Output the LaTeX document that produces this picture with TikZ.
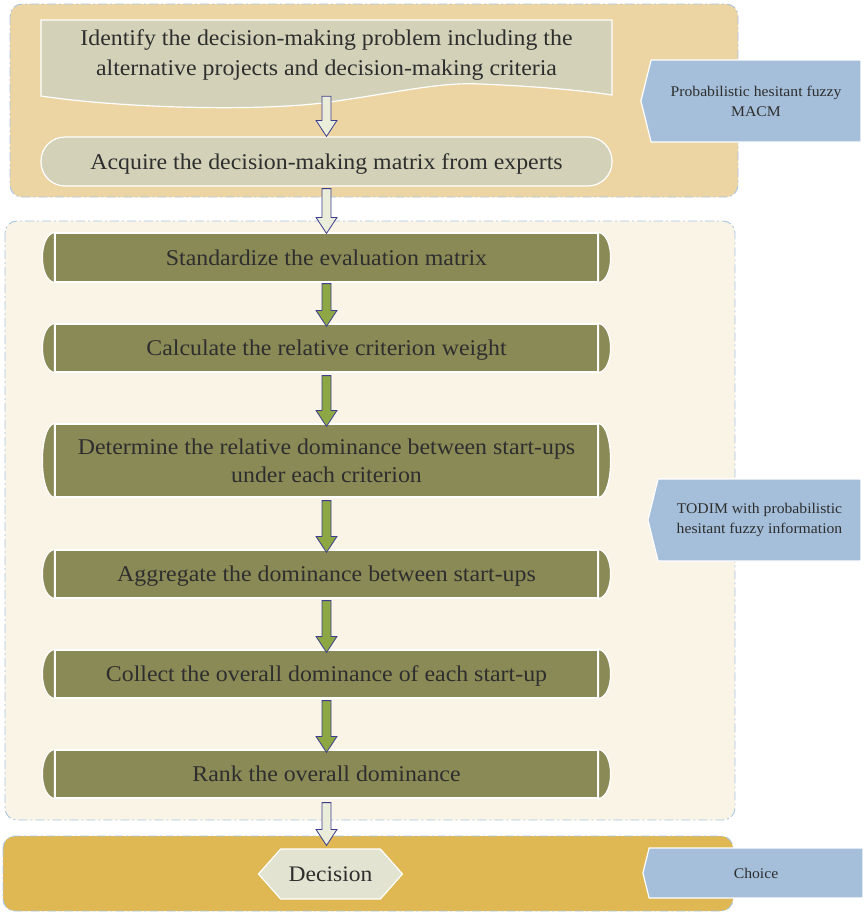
\documentclass[tikz,border=0pt]{standalone}
\usepackage{fontspec}
\setmainfont{Liberation Serif}[FakeStretch=1.06]
\usetikzlibrary{calc,shapes.symbols}
\definecolor{tanbg}{HTML}{EDD5A3}
\definecolor{docfill}{HTML}{D3D2B9}
\definecolor{midbg}{HTML}{FAF4E6}
\definecolor{olivebox}{HTML}{8A8A56}
\definecolor{arrgreen}{HTML}{8CA743}
\definecolor{arrline}{HTML}{3D3D8F}
\definecolor{arrlight}{HTML}{E9EDD9}
\definecolor{goldbg}{HTML}{DFB753}
\definecolor{hexfill}{HTML}{E3E3D1}
\definecolor{bluelab}{HTML}{A5BFDA}
\definecolor{panelline}{HTML}{A9C6E4}
\definecolor{txtc}{HTML}{2E2E2E}
\newcommand\gcaps[1]{%
 \path[gcap] (#1.north west) .. controls ($(#1.north west)+(-16,3)$) and ($(#1.south west)+(-16,-3)$) .. (#1.south west) -- cycle;
 \path[gcap] (#1.north east) .. controls ($(#1.north east)+(16,3)$) and ($(#1.south east)+(16,-3)$) .. (#1.south east) -- cycle;}
\newcommand\barrow[3]{%
 \path[#1] let \p1=(#2), \p2=(#3) in (\x1-4.5pt,\y1) -- (\x1+4.5pt,\y1) -- (\x1+4.5pt,\y2+16pt) -- (\x1+10.5pt,\y2+16pt) -- (\x1,\y2) -- (\x1-10.5pt,\y2+16pt) -- (\x1-4.5pt,\y2+16pt) -- cycle;}
\begin{document}
\begin{tikzpicture}[x=1pt,y=-1pt,
  panel/.style={draw=panelline, line width=0.9pt, rounded corners=12pt, dash pattern=on 9pt off 3pt on 2pt off 3pt},
  txt/.style={text=txtc, font=\fontsize{22.5}{30}\selectfont, align=center},
  oneline/.style={text height=19pt, text depth=4pt},
  docbox/.style={fill=docfill, draw=white, line width=1.2pt},
  acq/.style={txt, oneline, fill=docfill, draw=white, line width=1.2pt, rounded corners=24pt, minimum width=571pt, minimum height=49pt, inner sep=0pt},
  gbox/.style={txt, fill=olivebox, draw=white, line width=1.2pt, minimum width=543pt, inner sep=0pt},
  gcap/.style={fill=olivebox, draw=white, line width=1.2pt},
  garrow/.style={fill=arrgreen, draw=arrline, line width=0.8pt},
  larrow/.style={fill=arrlight, draw=arrline, line width=0.8pt},
  lab/.style={signal, signal to=west, signal pointer angle=152, fill=bluelab, draw=white, line width=1.2pt, text=txtc, font=\fontsize{14.8}{20}\selectfont, align=center, inner sep=0pt},
  hexa/.style={signal, signal to=west and east, signal pointer angle=97, fill=hexfill, draw=white, line width=1.2pt, text=txtc, font=\fontsize{22.2}{28}\selectfont, inner sep=0pt, minimum width=144pt, minimum height=50pt}
]
\useasboundingbox (0,0) rectangle (865,913);
% panels
\path[panel, fill=tanbg] (10,4) rectangle (738,197);
\path[panel, fill=midbg] (5,221) rectangle (735,820);
\path[panel, fill=goldbg] (3,836) rectangle (733,911);
% document shape
\path[docbox] (41,20) -- (612,20) -- (612,95) .. controls (580,90) and (530,86) .. (480,84) .. controls (440,82) and (400,92) .. (330,102) .. controls (260,112) and (120,108) .. (41,96) -- cycle;
\node[txt, minimum height=68pt, inner sep=0pt] (d1) at (326.5,55) {Identify the decision-making problem including the\\alternative projects and decision-making criteria};
\node[acq] (a1) at (326.5,161.5) {Acquire the decision-making matrix from experts};
% green boxes
\node[gbox, oneline, minimum height=49pt] (s1) at (326.5,257.5) {Standardize the evaluation matrix};
\node[gbox, oneline, minimum height=48pt] (s2) at (326.5,348) {Calculate the relative criterion weight};
\node[gbox, minimum height=73pt, font=\fontsize{22.5}{28}\selectfont] (s3) at (326.5,460.5) {Determine the relative dominance between start-ups\\under each criterion};
\node[gbox, oneline, minimum height=48pt] (s4) at (326.5,574) {Aggregate the dominance between start-ups};
\node[gbox, oneline, minimum height=48pt] (s5) at (326.5,674) {Collect the overall dominance of each start-up};
\node[gbox, oneline, minimum height=48pt] (s6) at (326.5,774) {Rank the overall dominance};
\foreach \n in {s1,s2,s3,s4,s5,s6} {\gcaps{\n}}
% decision
\node[hexa] (dec) at (330.5,874) {Decision};
% side labels
\node[lab, minimum width=220pt, minimum height=82pt] (l1) at (756,101) {Probabilistic hesitant fuzzy\\MACM};
\node[lab, minimum width=213pt, minimum height=82pt] (l2) at (759.5,520) {TODIM with probabilistic\\hesitant fuzzy information};
\node[lab, minimum width=220pt, minimum height=50pt] (l3) at (756,873) {Choice};
% arrows
\barrow{larrow}{[yshift=-7pt]d1.south}{a1.north}
\barrow{larrow}{[yshift=-2pt]a1.south}{[yshift=-1pt]s1.north}
\barrow{garrow}{[yshift=-1pt]s1.south}{[yshift=-3pt]s2.north}
\barrow{garrow}{[yshift=-3pt]s2.south}{[yshift=-3pt]s3.north}
\barrow{garrow}{[yshift=-3pt]s3.south}{[yshift=-3pt]s4.north}
\barrow{garrow}{[yshift=-2pt]s4.south}{[yshift=-3pt]s5.north}
\barrow{garrow}{[yshift=-2pt]s5.south}{[yshift=-3pt]s6.north}
\barrow{larrow}{[yshift=-4pt]s6.south}{[yshift=3pt]dec.north}
\end{tikzpicture}
\end{document}
